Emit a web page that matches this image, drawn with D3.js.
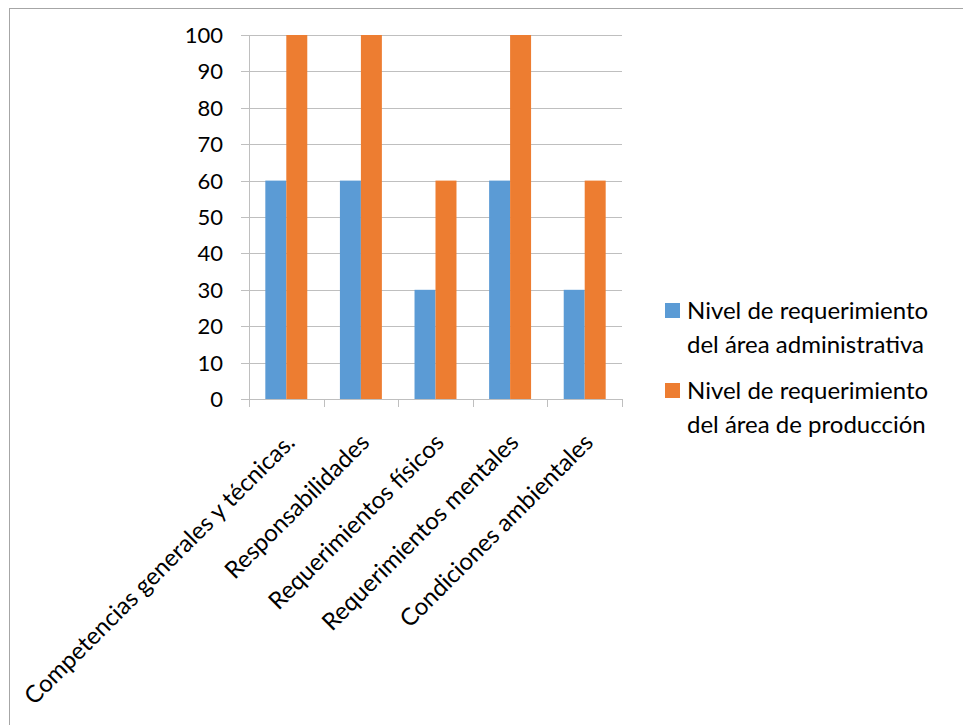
<!DOCTYPE html>
<html>
<head>
<meta charset="utf-8">
<script src="https://cdn.jsdelivr.net/npm/d3@7"></script>
<style>
  body { margin: 0; background: #fff; }
  svg { display: block; font-family: Lato, "Open Sans", sans-serif; }
</style>
</head>
<body>
<svg id="chart" width="963" height="725"></svg>
<script>
// chart data
var categories = ["Competencias generales y técnicas.", "Responsabilidades", "Requerimientos físicos", "Requerimientos mentales", "Condiciones ambientales"];
var seriesNames = [["Nivel de requerimiento", "del área administrativa"], ["Nivel de requerimiento", "del área de producción"]];
var adminValues = [60, 60, 30, 60, 30];
var prodValues = [100, 100, 60, 100, 60];
var yTicks = [0, 10, 20, 30, 40, 50, 60, 70, 80, 90, 100];
var colors = ["#5B9BD5", "#ED7D31"];

var svg = d3.select("#chart");

// chart area border (runs past the right/bottom edge of the picture)
svg.append("rect")
  .attr("x", 9.5).attr("y", 8.5)
  .attr("width", 980).attr("height", 740)
  .attr("fill", "none").attr("stroke", "#a6a6a6");

var plotL = 249, plotR = 622, plotT = 35, plotB = 399;

var x = d3.scaleBand().domain(categories).range([plotL, plotR]).padding(0);
var x1 = d3.scaleBand().domain([0, 1]).range([0, x.bandwidth()]).paddingInner(0).paddingOuter(0.778);
var y = d3.scaleLinear().domain([0, 100]).range([plotB, plotT]);

// gridlines
svg.append("g").selectAll("line")
  .data(yTicks)
  .enter().append("line")
    .attr("x1", plotL - 8).attr("x2", plotR)
    .attr("y1", function(d) { return Math.round(y(d)) + 0.5; })
    .attr("y2", function(d) { return Math.round(y(d)) + 0.5; })
    .attr("stroke", "#bfbfbf").attr("stroke-width", 1);

// y axis line
svg.append("line")
  .attr("x1", plotL + 0.5).attr("x2", plotL + 0.5)
  .attr("y1", plotT).attr("y2", plotB)
  .attr("stroke", "#bfbfbf");

// category tick marks
var bounds = categories.map(function(c) { return x(c); }).concat([plotR]);
svg.append("g").selectAll("line")
  .data(bounds)
  .enter().append("line")
    .attr("x1", function(d) { return Math.round(d) + 0.5; })
    .attr("x2", function(d) { return Math.round(d) + 0.5; })
    .attr("y1", plotB).attr("y2", plotB + 8)
    .attr("stroke", "#bfbfbf");

// bars
var rows = categories.map(function(c, i) { return {cat: c, vals: [adminValues[i], prodValues[i]]}; });
var grp = svg.append("g").selectAll("g")
  .data(rows)
  .enter().append("g")
    .attr("transform", function(d) { return "translate(" + x(d.cat) + ",0)"; });
grp.selectAll("rect")
  .data(function(d) { return d.vals.map(function(v, k) { return {k: k, v: v}; }); })
  .enter().append("rect")
    .attr("x", function(d) { return x1(d.k); })
    .attr("width", x1.bandwidth())
    .attr("y", function(d) { return y(d.v); })
    .attr("height", function(d) { return y(0) - y(d.v); })
    .attr("fill", function(d) { return colors[d.k]; });

// y tick labels
svg.append("g").selectAll("text")
  .data(yTicks)
  .enter().append("text")
    .attr("x", 223)
    .attr("y", function(d) { return y(d); })
    .attr("dy", "0.36em")
    .attr("text-anchor", "end")
    .attr("font-size", 22)
    .attr("fill", "#000")
    .text(function(d) { return d; });

// category labels
svg.append("g").selectAll("text")
  .data(categories)
  .enter().append("text")
    .attr("transform", function(d) {
      return "translate(" + (x(d) + x.bandwidth() / 2 + 4) + ",438) rotate(-45)";
    })
    .attr("text-anchor", "end")
    .attr("dy", "0.35em")
    .attr("font-size", 24)
    .attr("fill", "#000")
    .text(function(d) { return d; });

// legend
var leg = svg.append("g").selectAll("g")
  .data(seriesNames)
  .enter().append("g")
    .attr("transform", function(d, i) { return "translate(665," + (303 + i * 80) + ")"; });
leg.append("rect")
  .attr("width", 15).attr("height", 15)
  .attr("fill", function(d, i) { return colors[i]; });
leg.append("text")
  .attr("x", 22).attr("y", 16)
  .attr("font-size", 24)
  .attr("fill", "#000")
  .selectAll("tspan")
  .data(function(d) { return d; })
  .enter().append("tspan")
    .attr("x", 22)
    .attr("dy", function(d, i) { return i === 0 ? 0 : 34; })
    .text(function(d) { return d; });
</script>
</body>
</html>
